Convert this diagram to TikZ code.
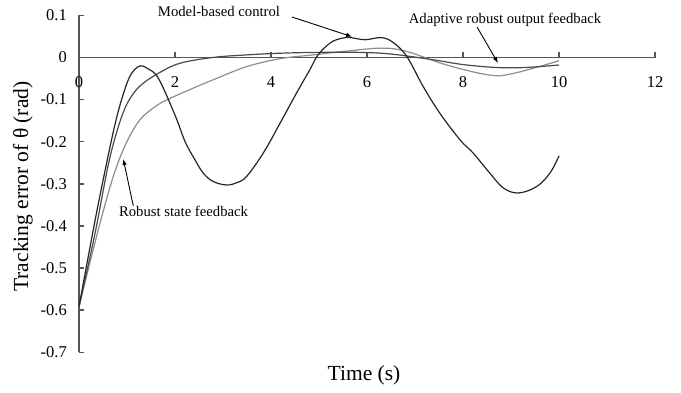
\documentclass[tikz,border=0pt]{standalone}
\usepackage{fontspec}
\setmainfont{Liberation Serif}
\usetikzlibrary{arrows.meta}
\definecolor{axisgray}{HTML}{555555}
\definecolor{cA}{HTML}{262626}
\definecolor{cB}{HTML}{4a4a4a}
\definecolor{cC}{HTML}{8e8e8e}
\begin{document}
\begin{tikzpicture}[x=1pt,y=-1pt,
  axisline/.style={draw=axisgray,line width=1.4pt},
  ticklab/.style={font=\fontsize{16.5}{17}\selectfont,inner sep=0pt},
  annot/.style={font=\fontsize{14.7}{15}\selectfont,inner sep=0pt},
  axtitle/.style={font=\fontsize{21.5}{22}\selectfont,inner sep=0pt},
  pointer/.style={draw=black,line width=0.9pt,-{Latex[length=6pt,width=4.5pt]}},
  curve/.style={line width=1.2pt,line join=round}]
\useasboundingbox (0,0) rectangle (681,392);
\fill[white] (0,0) rectangle (681,392);
% axes
\draw[axisline] (79,57.4) -- (656,57.4);
\foreach \t in {2,4,...,12} \draw[axisline] ({79+48*\t},57.4) -- ++(0,-5);
\draw[axisline] (79,15.3) -- (79,352.3);
\foreach \k in {0,...,8} \draw[axisline] (79,{15.3+42.125*\k}) -- ++(5,0);
% tick labels
\foreach \k/\lab in {0/0.1,1/0,2/-0.1,3/-0.2,4/-0.3,5/-0.4,6/-0.5,7/-0.6,8/-0.7}
  \node[ticklab,anchor=east] (yl\k) at (67,{15.3+42.125*\k}) {\lab};
\foreach \t in {0,2,...,12}
  \node[ticklab] (xl\t) at ({79+48*\t},82.5) {\t};
% curves
\begin{scope}[shift={(79,57.4)},x=48pt,y=421pt]
\draw[curve,cC] plot[smooth,tension=0.6] coordinates {(0,-0.592) (0.2,-0.5) (0.47,-0.38) (0.7,-0.288) (0.9,-0.225) (1.1,-0.178) (1.31,-0.143) (1.65,-0.112) (2.0,-0.092) (2.4,-0.072) (2.8,-0.053) (3.49,-0.022) (4.19,-0.003) (4.88,0.006) (5.5,0.014) (6.3,0.022) (6.83,0.014) (7.66,-0.018) (8.56,-0.042) (9.05,-0.038) (10,-0.008)};
\draw[curve,cB] plot[smooth,tension=0.6] coordinates {(0,-0.592) (0.33,-0.42) (0.61,-0.255) (0.8,-0.172) (0.96,-0.12) (1.12,-0.088) (1.31,-0.064) (1.65,-0.038) (2.1,-0.014) (2.8,0) (3.5,0.006) (4.2,0.01) (5,0.012) (5.8,0.012) (6.5,0.008) (7.4,-0.006) (8.0,-0.017) (8.7,-0.024) (9.3,-0.024) (10,-0.018)};
\draw[curve,cA] plot[smooth,tension=0.6] coordinates {(0,-0.592) (0.33,-0.39) (0.61,-0.232) (0.78,-0.145) (0.92,-0.088) (1.04,-0.05) (1.15,-0.03) (1.28,-0.02) (1.42,-0.026) (1.65,-0.049) (2.0,-0.137) (2.21,-0.2) (2.4,-0.24) (2.59,-0.275) (2.8,-0.295) (3.08,-0.303) (3.3,-0.297) (3.49,-0.283) (3.84,-0.227) (4.19,-0.156) (4.53,-0.085) (4.81,-0.029) (4.98,0.006) (5.23,0.034) (5.45,0.045) (5.65,0.047) (5.96,0.042) (6.3,0.047) (6.55,0.035) (6.83,0.002) (7.17,-0.069) (7.52,-0.133) (7.94,-0.196) (8.21,-0.227) (8.56,-0.275) (8.84,-0.31) (9.15,-0.322) (9.53,-0.307) (9.81,-0.275) (10,-0.234)};
\end{scope}
% annotations
\node[annot,anchor=base] (mbl) at (219,16) {Model-based control};
\node[annot,anchor=base] (arl) at (505,23) {Adaptive robust output feedback};
\node[annot,anchor=base] (rsl) at (183.5,216) {Robust state feedback};
\coordinate (mbtail) at (292,17);
\coordinate (mbtip) at (352,36.7);
\coordinate (artail) at (477,27);
\coordinate (artip) at (498,63);
\coordinate (rstail) at (133.3,206);
\coordinate (rstip) at (123.3,159);
\draw[pointer] (mbtail) -- (mbtip);
\draw[pointer] (artail) -- (artip);
\draw[pointer] (rstail) -- (rstip);
% axis titles
\node[axtitle,rotate=90] (ylab) at (23,186.5) {Tracking error of θ (rad)};
\node[axtitle] (xlab) at (364,375) {Time (s)};
\end{tikzpicture}
\end{document}
